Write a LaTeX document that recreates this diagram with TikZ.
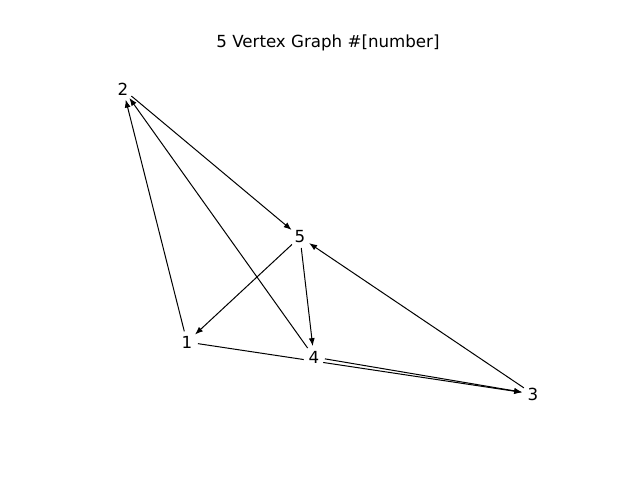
\documentclass[tikz,border=0pt]{standalone}
\usepackage{fontspec}
\setmainfont{DejaVu Sans}
\usetikzlibrary{arrows.meta,backgrounds}
\begin{document}
\begin{tikzpicture}[x=0.75pt,y=-0.75pt,
  vert/.style={circle,fill=white,inner sep=0pt,minimum size=16pt,font=\fontsize{12.5}{15}\selectfont},
  edge/.style={draw=black,line width=0.75pt,-{Latex[length=6pt,width=4.5pt]}}]
\useasboundingbox (0,0) rectangle (640,480);
\node[font=\fontsize{12.5}{15}\selectfont] (title) at (328,43) {5 Vertex Graph \#[number]};
\node[vert] (n2) at (123,89) {2};
\node[vert] (n5) at (300,237) {5};
\node[vert] (n1) at (187,342) {1};
\node[vert] (n4) at (314,357) {4};
\node[vert] (n3) at (533,394) {3};
\begin{pgfonlayer}{background}
\draw[edge] (n2) -- (n5);
\draw[edge] (n1) -- (n2);
\draw[edge] (n4) -- (n2);
\draw[edge] (n5) -- (n1);
\draw[edge] (n5) -- (n4);
\draw[edge] (n3) -- (n5);
\draw[edge] (n1) -- (n3);
\draw[edge] (n4) -- (n3);
\end{pgfonlayer}
\end{tikzpicture}
\end{document}
